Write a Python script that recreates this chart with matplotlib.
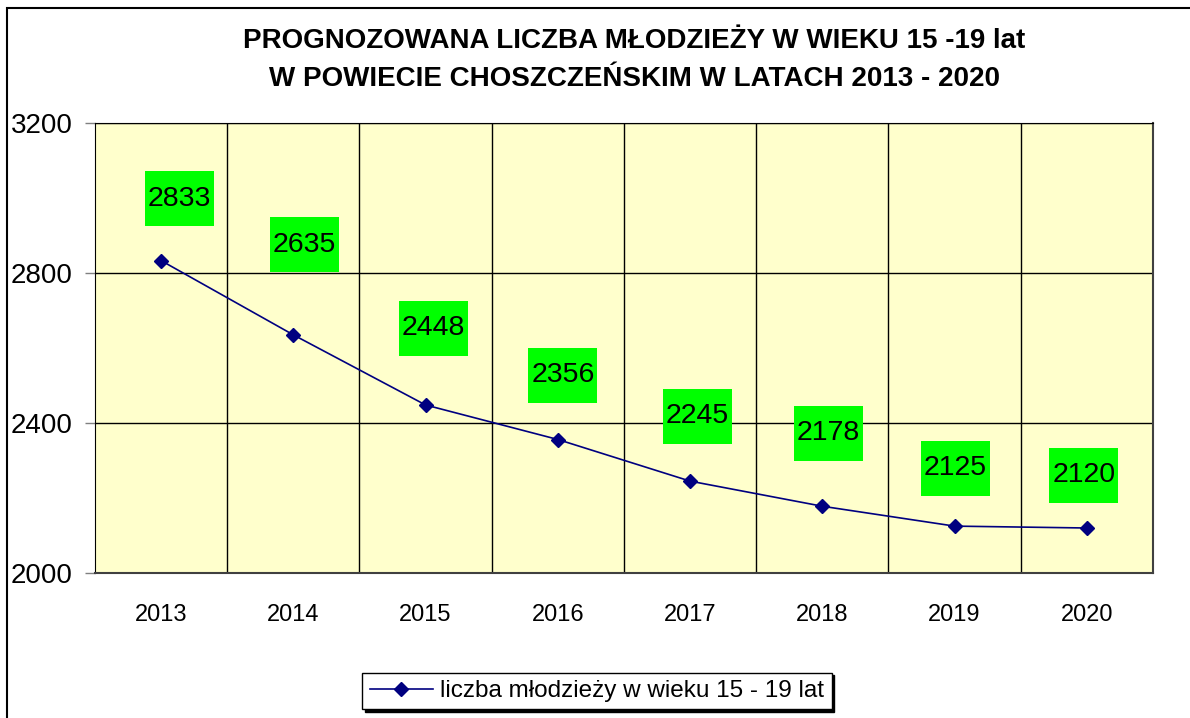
import matplotlib.pyplot as plt
from matplotlib.patches import Rectangle
from matplotlib.path import Path
import numpy as np

plt.rcParams['font.family'] = ['Liberation Sans', 'DejaVu Sans']

years = ['2013', '2014', '2015', '2016', '2017', '2018', '2019', '2020']
values = [2833, 2635, 2448, 2356, 2245, 2178, 2125, 2120]
# label offsets (px) of the green boxes from their points, as placed in the original
label_dx = [18, 11, 8, 5, 7, 6, 1, -3]
label_dy = [62, 90, 77, 64, 65, 73, 58, 53]

title = 'PROGNOZOWANA LICZBA MŁODZIEŻY W WIEKU 15 -19 lat\nW POWIECIE CHOSZCZEŃSKIM W LATACH 2013 - 2020'
legend_label = 'liczba młodzieży w wieku 15 - 19 lat'


def green_box(x0, y0, width, height, mutation_size):
    # fixed-size box (69 x 55 px) centred on the text
    cx = x0 + width / 2
    cy = y0 + height / 2
    hw, hh = 34.5, 27.5
    return Path([(cx - hw, cy - hh), (cx + hw, cy - hh), (cx + hw, cy + hh),
                 (cx - hw, cy + hh), (cx - hw, cy - hh)], closed=True)


fig = plt.figure(figsize=(11.9, 7.18), dpi=100)
ax = fig.add_axes([95 / 1190, 145 / 718, 1058 / 1190, 450 / 718])
ax.set_facecolor('#FFFFCC')

x = np.arange(len(years))
ax.plot(x, values, color='#000080', lw=1.2, marker='D', ms=7,
        markerfacecolor='#000080', markeredgecolor='#000080', label=legend_label)

for i, v in enumerate(values):
    ax.annotate(str(v), (x[i], v), xytext=(label_dx[i] * 0.72, label_dy[i] * 0.72),
                textcoords='offset points', ha='center', va='center', fontsize=20.5,
                bbox=dict(boxstyle=green_box, facecolor='#00FF00', edgecolor='none'))

ax.set_xlim(-0.5, len(years) - 0.5)
ax.set_ylim(2000, 3200)
ax.set_yticks([2000, 2400, 2800, 3200])
ax.set_xticks(x)
ax.set_xticklabels(years, fontsize=17)
ax.set_xticks(x[:-1] + 0.5, minor=True)
ax.tick_params(axis='y', labelsize=20, length=7, width=1, color='#808080', pad=9)
ax.tick_params(axis='x', which='both', length=0, pad=22)
ax.grid(axis='y', which='major', color='black', lw=1)
ax.grid(axis='x', which='minor', color='black', lw=1)
ax.grid(axis='x', which='major', visible=False)
ax.set_axisbelow(True)
for s in ['top', 'left']:
    ax.spines[s].set_color('black')
for s in ['right', 'bottom']:
    ax.spines[s].set_color('#404040')
    ax.spines[s].set_linewidth(1.5)

fig.text(0.533, 0.961, title, ha='center', va='top', fontsize=20,
         fontweight='bold', linespacing=1.6)

leg = fig.legend(loc='center', bbox_to_anchor=(597 / 1190, 1 - 691 / 718),
                 fontsize=17.5, frameon=True, fancybox=False, shadow={'color': 'black', 'alpha': 1},
                 edgecolor='black', handlelength=2.6, borderpad=0.3, handletextpad=0.3,
                 borderaxespad=0)
leg.get_frame().set_linewidth(1)

fig.patches.append(Rectangle((7 / 1190, -0.1), 1.2, 1.1 - 8 / 718, transform=fig.transFigure,
                             fill=False, edgecolor='black', lw=1.5))

fig.savefig('out.png', dpi=100, facecolor='white')
